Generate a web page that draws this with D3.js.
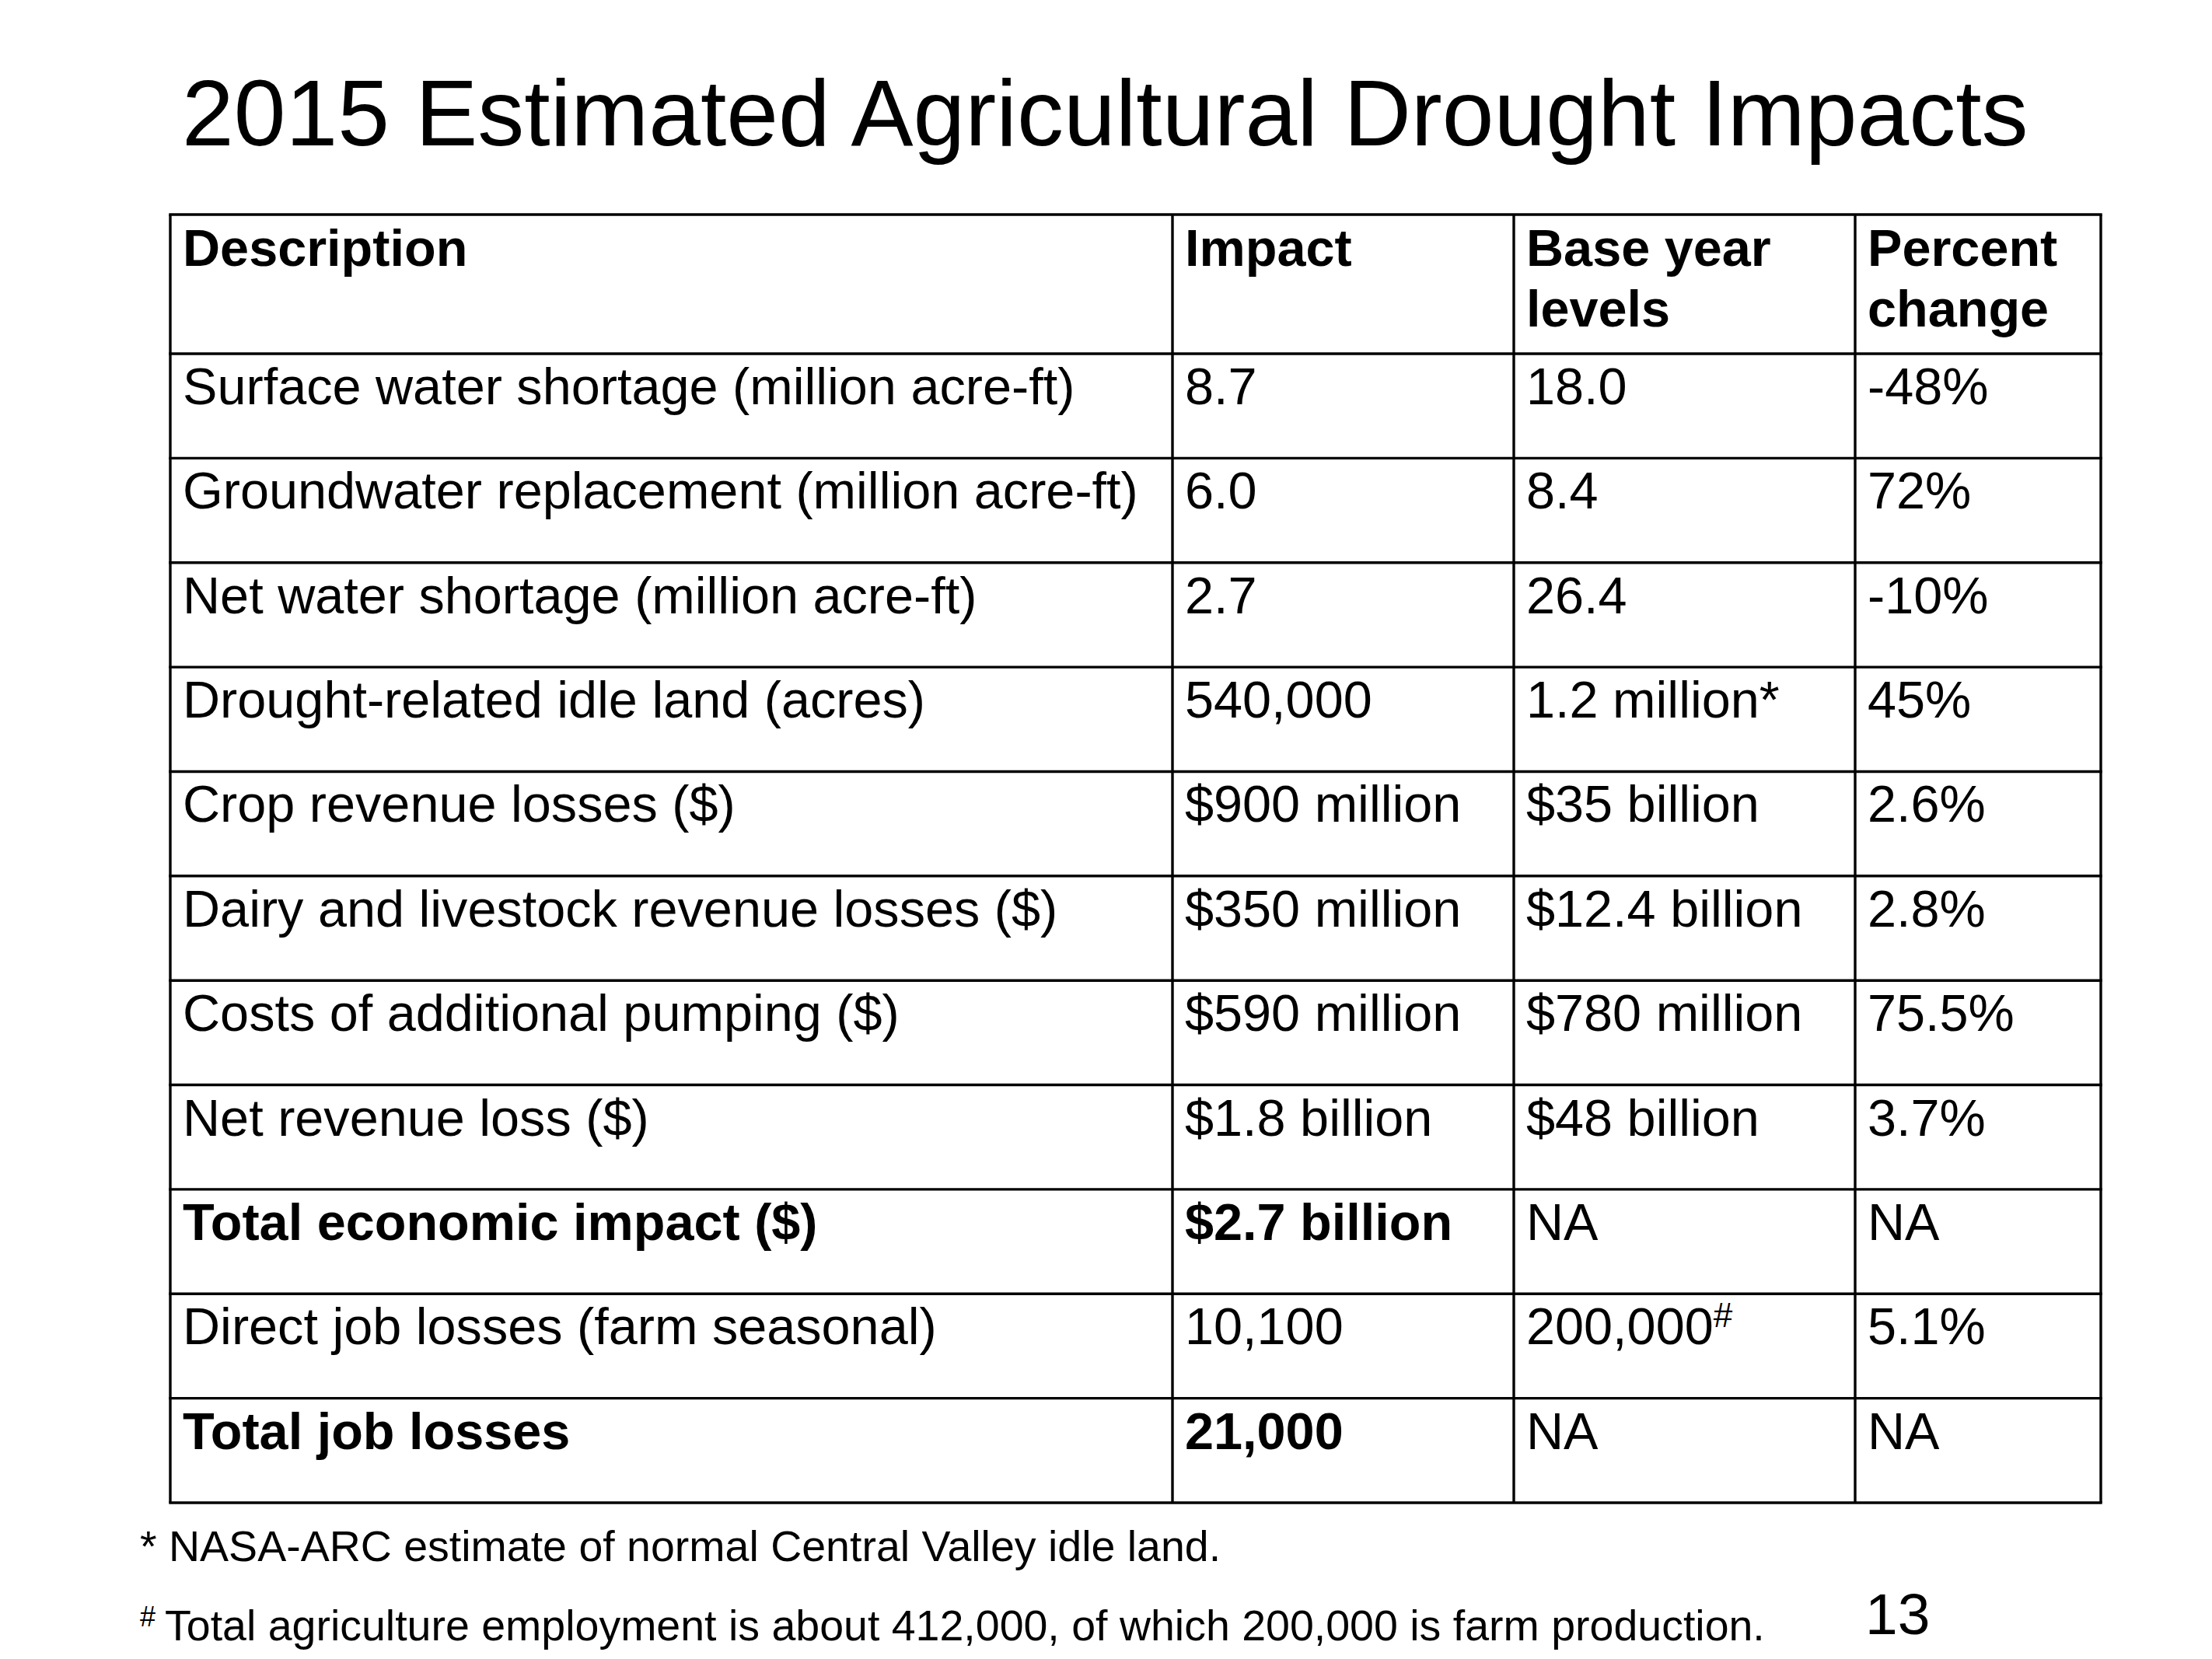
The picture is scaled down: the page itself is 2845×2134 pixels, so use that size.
<!DOCTYPE html>
<html>
<head>
<meta charset="utf-8">
<script src="https://cdn.jsdelivr.net/npm/d3@7"></script>
<style>
  html, body { margin: 0; padding: 0; background: #fff; }
  svg { display: block; font-family: "Liberation Sans", Arial, sans-serif; }
</style>
</head>
<body>
<div id="chart"></div>
<script>
// table content
const title = "2015 Estimated Agricultural Drought Impacts";
const headers = [["Description"], ["Impact"], ["Base year", "levels"], ["Percent", "change"]];
const descriptions = [
  "Surface water shortage (million acre-ft)",
  "Groundwater replacement (million acre-ft)",
  "Net water shortage (million acre-ft)",
  "Drought-related idle land (acres)",
  "Crop revenue losses ($)",
  "Dairy and livestock revenue losses ($)",
  "Costs of additional pumping ($)",
  "Net revenue loss ($)",
  "Total economic impact ($)",
  "Direct job losses (farm seasonal)",
  "Total job losses"
];
const impacts = ["8.7", "6.0", "2.7", "540,000", "$900 million", "$350 million",
  "$590 million", "$1.8 billion", "$2.7 billion", "10,100", "21,000"];
const baseLevels = ["18.0", "8.4", "26.4", "1.2 million*", "$35 billion", "$12.4 billion",
  "$780 million", "$48 billion", "NA", "200,000#", "NA"];
const percentChanges = ["-48%", "72%", "-10%", "45%", "2.6%", "2.8%",
  "75.5%", "3.7%", "NA", "5.1%", "NA"];
const boldRows = ["Total economic impact ($)", "Total job losses"];
const footnotes = [
  { mark: "*", text: " NASA-ARC estimate of normal Central Valley idle land." },
  { mark: "#", text: "Total agriculture employment is about 412,000, of which 200,000 is farm production." }
];
const pageNumber = "13";

// layout
const W = 2845, H = 2134;
const tableTop = 276, headerBottom = 455, tableBottom = 1933;
const colEdges = [219, 1508, 1947, 2386, 2702];
const padX = 16, baseOffset = 65, lineGap = 78;
const fontSize = 66.6;

const svg = d3.select("#chart").append("svg")
  .attr("width", W)
  .attr("height", H)
  .attr("viewBox", `0 0 ${W} ${H}`);

svg.append("rect").attr("width", W).attr("height", H).attr("fill", "#fff");

// title
svg.append("text")
  .attr("x", 234)
  .attr("y", 187)
  .attr("font-size", 120)
  .attr("fill", "#000")
  .text(title);

// scales
const nRows = descriptions.length;
const y = d3.scaleLinear().domain([0, nRows]).range([headerBottom, tableBottom]);
const x = d3.scaleOrdinal().domain(d3.range(5)).range(colEdges);

const rows = descriptions.map((d, i) => ({
  cells: [d, impacts[i], baseLevels[i], percentChanges[i]],
  bold: boldRows.includes(d)
}));

// grid lines
const grid = svg.append("g").attr("stroke", "#000").attr("stroke-width", 3.4);
const hLines = [tableTop].concat(d3.range(nRows + 1).map(i => y(i)));
grid.selectAll("line.h")
  .data(hLines)
  .enter().append("line")
  .attr("class", "h")
  .attr("x1", colEdges[0] - 1.7)
  .attr("x2", colEdges[4] + 1.7)
  .attr("y1", d => d)
  .attr("y2", d => d);
grid.selectAll("line.v")
  .data(d3.range(5))
  .enter().append("line")
  .attr("class", "v")
  .attr("x1", d => x(d))
  .attr("x2", d => x(d))
  .attr("y1", tableTop)
  .attr("y2", tableBottom);

// header
const head = svg.append("g").attr("font-size", fontSize).attr("font-weight", "bold");
headers.forEach((lines, c) => {
  const t = head.append("text")
    .attr("x", x(c) + padX)
    .attr("y", tableTop + baseOffset + 1);
  lines.forEach((ln, k) => {
    t.append("tspan")
      .attr("x", x(c) + padX)
      .attr("dy", k === 0 ? 0 : lineGap)
      .text(ln);
  });
});

// body rows
const body = svg.append("g").attr("font-size", fontSize);
rows.forEach((r, i) => {
  r.cells.forEach((txt, c) => {
    const t = body.append("text")
      .attr("x", x(c) + padX)
      .attr("y", y(i) + baseOffset)
      .attr("font-weight", r.bold && c < 2 ? "bold" : "normal");
    const m = txt.match(/^(.*?)(#)$/);
    if (m) {
      t.append("tspan").text(m[1]);
      t.append("tspan").attr("font-size", 44).attr("dy", -22).text(m[2]);
    } else {
      t.text(txt);
    }
  });
});

// footnotes
const notes = svg.append("g").attr("font-size", 55.5);
const n1 = notes.append("text").attr("x", 180).attr("y", 2008);
n1.append("tspan").text(footnotes[0].mark + footnotes[0].text);
const n2 = notes.append("text").attr("x", 180).attr("y", 2110);
n2.append("tspan").attr("font-size", 36).attr("dy", -18).text(footnotes[1].mark);
n2.append("tspan").attr("dy", 18).attr("dx", 12).text(footnotes[1].text);

// page number
svg.append("text")
  .attr("x", 2399)
  .attr("y", 2102)
  .attr("font-size", 75)
  .text(pageNumber);
</script>
</body>
</html>
